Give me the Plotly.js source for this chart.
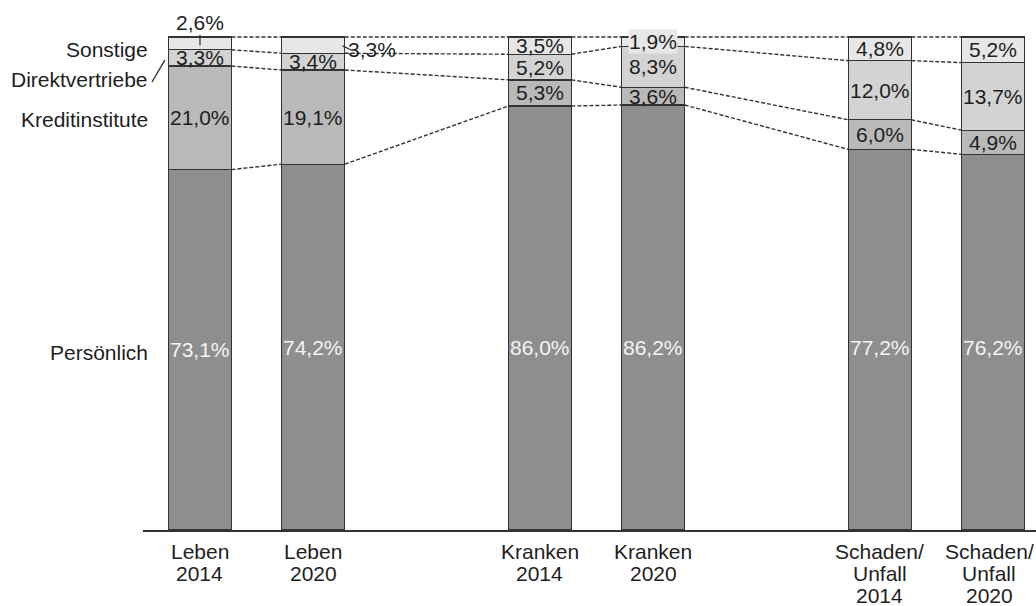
<!DOCTYPE html>
<html>
<head>
<meta charset="utf-8">
<script src="https://cdn.plot.ly/plotly-3.0.1.min.js"></script>
<style>html,body{margin:0;padding:0;background:#fff;}#chart{width:1036px;height:606px;}</style>
</head>
<body>
<div id="chart"></div>
<script>
// ---- data ----
const categories = ["Leben<br>2014", "Leben<br>2020", "Kranken<br>2014", "Kranken<br>2020", "Schaden/<br>Unfall<br>2014", "Schaden/<br>Unfall<br>2020"];
const seriesNames = ["Persönlich", "Kreditinstitute", "Direktvertriebe", "Sonstige"];
const persoenlich = [73.1, 74.2, 86.0, 86.2, 77.2, 76.2];
const kreditinstitute = [21.0, 19.1, 5.3, 3.6, 6.0, 4.9];
const direktvertriebe = [3.3, 3.4, 5.2, 8.3, 12.0, 13.7];
const sonstige = [2.6, 3.3, 3.5, 1.9, 4.8, 5.2];

// ---- layout helpers ----
const series = [persoenlich, kreditinstitute, direktvertriebe, sonstige];
const colors = ["#8e8e8e", "#b9b9b9", "#d3d3d3", "#e7e7e7"];
const xPos = categories.map((c, i) => i + Math.floor(i / 2));
const W = 0.556;
const FONT = "Liberation Sans, Arial, sans-serif";
const fmt = v => v.toFixed(1).replace(".", ",") + "%";

const traces = series.map((vals, s) => ({
  type: "bar", x: xPos, y: vals, width: W, name: seriesNames[s],
  marker: {color: colors[s], line: {color: "#333", width: 1.3}},
  hoverinfo: "skip", showlegend: false
}));

// cumulative boundaries
const cum = [];
let run = xPos.map(() => 0);
series.forEach(vals => { run = run.map((r, i) => r + vals[i]); cum.push(run.slice()); });

// connector lines
cum.forEach(level => {
  const xs = [], ys = [];
  for (let i = 0; i < xPos.length - 1; i++) {
    xs.push(xPos[i] + W / 2, xPos[i + 1] - W / 2, null);
    ys.push(level[i], level[i + 1], null);
  }
  traces.push({type: "scatter", mode: "lines", x: xs, y: ys,
    line: {color: "#333", width: 1.4, dash: "4px,2px"}, hoverinfo: "skip", showlegend: false});
});

const annotations = [];
const lblFont = {family: FONT, size: 21, color: "#1e1e1e"};
// value labels
series.forEach((vals, s) => {
  vals.forEach((v, i) => {
    const base = s === 0 ? 0 : cum[s - 1][i];
    let x = xPos[i], y = base + v / 2, font = lblFont, bg = undefined;
    if (s === 0) { y = Math.min(v / 2, 37); font = {family: FONT, size: 21, color: "#f4f4f4"}; }
    if (s === 3 && i === 0) { y = 103.0; }
    if (s === 3 && i === 1) { x = xPos[i] + 0.52; y = 97.4; }
    if (s === 3 && i === 3) { y = 99.0; bg = colors[3]; }
    const a = {x: x, y: y, xref: "x", yref: "y", text: fmt(v), showarrow: false,
      font: font, xanchor: "center", yanchor: "middle"};
    if (bg) { a.bgcolor = bg; a.borderpad = 0; }
    annotations.push(a);
  });
});

// series labels at left
const leftY = [352, 120, 80, 50];
seriesNames.forEach((n, s) => {
  annotations.push({x: 0, xref: "paper", xanchor: "right", xshift: 7,
    y: (530 - leftY[s]) / 530, yref: "paper", yanchor: "middle",
    text: n, showarrow: false, font: lblFont});
});

// category labels below axis
categories.forEach((c, i) => {
  const shift = i === categories.length - 1 ? -4 : 0;
  c.split("<br>").forEach((line, k) => {
    annotations.push({x: xPos[i], xref: "x", xshift: shift, y: 0, yref: "paper", yanchor: "middle",
      yshift: -21 - 22 * k, text: line, showarrow: false, font: lblFont});
  });
});

const shapes = [
  // leader for 2,6%
  {type: "line", xref: "x", yref: "y", x0: xPos[0], x1: xPos[0], y0: 100.4, y1: 98.3, line: {color: "#333", width: 1.3}},
  // leader for 3,3% (Leben 2020)
  {type: "line", xref: "x", yref: "y", x0: xPos[1] + W / 2 - 0.02, x1: xPos[1] + W / 2 + 0.07, y0: 98.2, y1: 97.2, line: {color: "#333", width: 1.3}},
  // slash next to Direktvertriebe
  {type: "line", xref: "x", yref: "y", x0: -0.423, x1: -0.31, y0: 90.9, y1: 95.3, line: {color: "#333", width: 1.3}}
];

const layout = {
  width: 1036, height: 606,
  margin: {l: 143, r: 0, t: 0, b: 76},
  paper_bgcolor: "#fff", plot_bgcolor: "#fff",
  barmode: "stack",
  font: {family: FONT, color: "#1e1e1e"},
  xaxis: {range: [-0.503, 7.379], showgrid: false, zeroline: false, showticklabels: false,
    ticks: "", showline: true, linecolor: "#333", linewidth: 1.5, fixedrange: true},
  yaxis: {range: [0, 107.5], visible: false, fixedrange: true},
  annotations: annotations, shapes: shapes, showlegend: false
};

Plotly.newPlot("chart", traces, layout, {staticPlot: true});
</script>
</body>
</html>
